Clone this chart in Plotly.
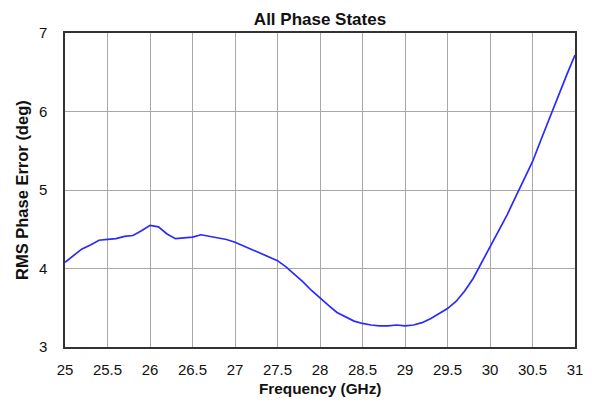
import plotly.graph_objects as go

freq = [25.0, 25.1, 25.2, 25.3, 25.4, 25.5, 25.6, 25.7, 25.8, 25.9,
        26.0, 26.1, 26.2, 26.3, 26.4, 26.5, 26.6, 26.7, 26.8, 26.9,
        27.0, 27.1, 27.2, 27.3, 27.4, 27.5, 27.6, 27.7, 27.8, 27.9,
        28.0, 28.1, 28.2, 28.3, 28.4, 28.5, 28.6, 28.7, 28.8, 28.9,
        29.0, 29.1, 29.2, 29.3, 29.4, 29.5, 29.6, 29.7, 29.8, 29.9,
        30.0, 30.1, 30.2, 30.3, 30.4, 30.5, 30.6, 30.7, 30.8, 30.9, 31.0]
rms_err = [4.08, 4.16, 4.25, 4.30, 4.36, 4.37, 4.38, 4.41, 4.42, 4.48,
           4.55, 4.53, 4.44, 4.38, 4.39, 4.40, 4.43, 4.41, 4.39, 4.37,
           4.335, 4.29, 4.24, 4.19, 4.15, 4.10, 4.02, 3.93, 3.83, 3.72,
           3.62, 3.53, 3.44, 3.38, 3.33, 3.30, 3.28, 3.27, 3.27, 3.28,
           3.27, 3.28, 3.31, 3.36, 3.42, 3.49, 3.58, 3.71, 3.87, 4.07,
           4.26, 4.47, 4.68, 4.91, 5.13, 5.36, 5.64, 5.92, 6.20, 6.46, 6.72]

x_ticks = [25, 25.5, 26, 26.5, 27, 27.5, 28, 28.5, 29, 29.5, 30, 30.5, 31]
y_ticks = [3, 4, 5, 6, 7]

fig = go.Figure()
fig.add_trace(go.Scatter(x=freq, y=rms_err, mode="lines",
                         line=dict(color="#2a2aff", width=1.7),
                         showlegend=False))

font = "Liberation Sans, Arial, sans-serif"
fig.update_layout(
    width=592, height=406,
    margin=dict(l=65, r=17, t=33, b=59, autoexpand=False),
    paper_bgcolor="white", plot_bgcolor="white",
    font=dict(family=font, size=15, color="#111"),
    title=dict(text="<b>All Phase States</b>", x=320 / 592, xanchor="center",
               y=1 - 19 / 406, yanchor="middle", font=dict(size=17, color="#111")),
    annotations=[
        dict(text="<b>Frequency (GHz)</b>", xref="paper", yref="paper",
             x=0.5, y=0, yshift=-41, xanchor="center", yanchor="middle",
             showarrow=False, font=dict(size=15.3, color="#111")),
        dict(text="<b>RMS Phase Error (deg)</b>", xref="paper", yref="paper",
             x=0, y=0.5, xshift=-43, xanchor="center", yanchor="middle",
             textangle=-90, showarrow=False, font=dict(size=16.5, color="#111")),
    ],
)
fig.update_xaxes(range=[25, 31], tickvals=x_ticks,
                 ticktext=[str(v) for v in x_ticks],
                 showgrid=True, gridcolor="#a8a8a8", gridwidth=1,
                 showline=True, linecolor="#333", linewidth=1.5, mirror=True,
                 ticks="", ticklabelstandoff=8, zeroline=False, automargin=False)
fig.update_yaxes(range=[3, 7], tickvals=y_ticks,
                 showgrid=True, gridcolor="#a8a8a8", gridwidth=1,
                 showline=True, linecolor="#333", linewidth=1.5, mirror=True,
                 ticks="", ticklabelstandoff=13, zeroline=False, automargin=False)

fig.write_html("out.html", config={"displayModeBar": False},
               post_script="document.body.style.margin='0';document.body.style.padding='0';")
